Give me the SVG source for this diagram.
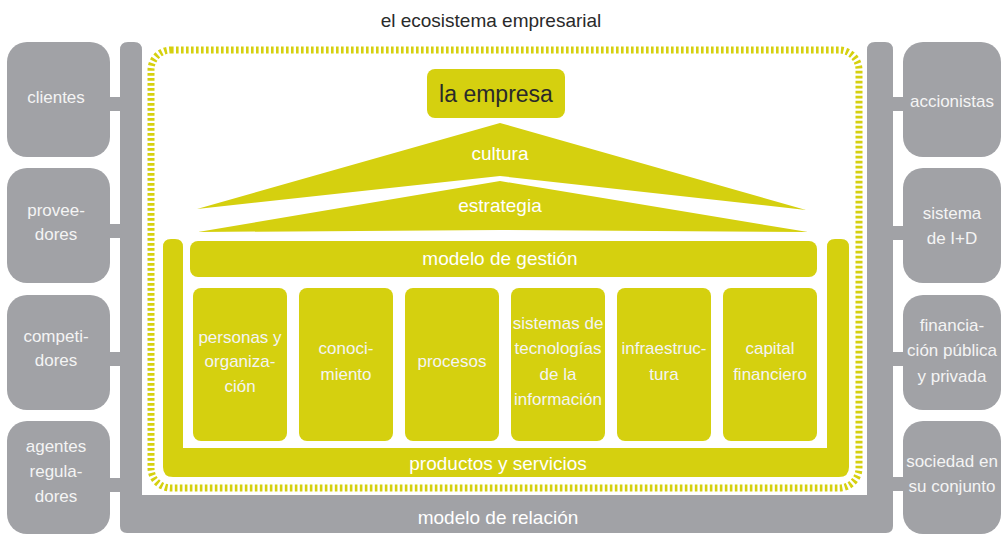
<svg xmlns="http://www.w3.org/2000/svg" width="1002" height="534" viewBox="0 0 1002 534">
<style>
.y{fill:#d5d00f}
.g{fill:#a1a2a6}
.t{font-family:"Liberation Sans Narrow","Liberation Sans",sans-serif;text-anchor:middle}
.w{fill:#ffffff;font-size:19px}
.wg{fill:#f4f4f4;font-size:17px}
.d{fill:#2a2a2a}
</style>
<rect width="1002" height="534" fill="#ffffff"/>
<text class="t d" x="491" y="27" font-size="19">el ecosistema empresarial</text>
<g id="frame">
<path class="g" d="M120,50 Q120,42 128,42 H134 Q142,42 142,50 V495 H867 V50 Q867,42 875,42 H885 Q893,42 893,50 V526 Q893,533 886,533 H127 Q120,533 120,526 Z"/>
<text class="t w" x="498" y="524" font-size="20">modelo de relación</text>
</g>
<g id="connectors" class="g">
<rect x="108" y="97" width="14" height="14"/>
<rect x="108" y="224" width="14" height="14"/>
<rect x="108" y="352" width="14" height="14"/>
<rect x="108" y="478" width="14" height="14"/>
<rect x="891" y="97" width="14" height="14"/>
<rect x="891" y="226" width="14" height="14"/>
<rect x="891" y="352" width="14" height="14"/>
<rect x="891" y="477" width="14" height="14"/>
</g>
<g id="clientes"><rect class="g" x="7" y="42" width="103" height="115" rx="20"/><text class="t wg" x="56" y="103">clientes</text></g>
<g id="proveedores"><rect class="g" x="7" y="168" width="103" height="115" rx="20"/><text class="t wg" x="56" y="216">provee-</text><text class="t wg" x="56" y="240">dores</text></g>
<g id="competidores"><rect class="g" x="7" y="295" width="103" height="115" rx="20"/><text class="t wg" x="56" y="342">competi-</text><text class="t wg" x="56" y="366">dores</text></g>
<g id="agentes"><rect class="g" x="7" y="421" width="103" height="113" rx="20"/><text class="t wg" x="56" y="452">agentes</text><text class="t wg" x="56" y="477">regula-</text><text class="t wg" x="56" y="502">dores</text></g>
<g id="accionistas"><rect class="g" x="903" y="42" width="98" height="115" rx="20"/><text class="t wg" x="952" y="107">accionistas</text></g>
<g id="sistema-id"><rect class="g" x="903" y="168" width="98" height="115" rx="20"/><text class="t wg" x="952" y="219">sistema</text><text class="t wg" x="952" y="244">de I+D</text></g>
<g id="financiacion"><rect class="g" x="903" y="295" width="98" height="115" rx="20"/><text class="t wg" x="952" y="331">financia-</text><text class="t wg" x="952" y="356">ción pública</text><text class="t wg" x="952" y="382">y privada</text></g>
<g id="sociedad"><rect class="g" x="903" y="421" width="98" height="113" rx="20"/><text class="t wg" x="952" y="467">sociedad en</text><text class="t wg" x="952" y="492">su conjunto</text></g>
<g id="empresa-border">
<rect x="151" y="50" width="708" height="438" rx="20" fill="none" stroke="#d5d00f" stroke-width="7" stroke-dasharray="2.6 2.4"/>
</g>
<g id="la-empresa"><rect class="y" x="427" y="69" width="138" height="49" rx="8"/><text class="t d" x="496" y="102" font-size="23">la empresa</text></g>
<g id="cultura"><polygon class="y" points="197,209 500,123 806,210 500,176"/><text class="t w" x="500" y="160" font-size="20">cultura</text></g>
<g id="estrategia"><polygon class="y" points="198,232 500,181 808,232 500,230"/><text class="t w" x="500" y="212" font-size="20">estrategia</text></g>
<g id="productos"><path class="y" d="M163,247 Q163,239 171,239 H175 Q183,239 183,247 V448 H827 V247 Q827,239 835,239 H841 Q849,239 849,247 V467 Q849,477 839,477 H173 Q163,477 163,467 Z"/><text class="t w" x="498" y="470" font-size="20">productos y servicios</text></g>
<g id="modelo-gestion"><rect class="y" x="190" y="241" width="627" height="36" rx="8"/><text class="t w" x="500" y="265" font-size="20">modelo de gestión</text></g>
<g id="personas"><rect class="y" x="193" y="288" width="94" height="153" rx="8"/><text class="t wg" x="240" y="343">personas y</text><text class="t wg" x="240" y="367">organiza-</text><text class="t wg" x="240" y="392">ción</text></g>
<g id="conocimiento"><rect class="y" x="299" y="288" width="94" height="153" rx="8"/><text class="t wg" x="346" y="354">conoci-</text><text class="t wg" x="346" y="380">miento</text></g>
<g id="procesos"><rect class="y" x="405" y="288" width="94" height="153" rx="8"/><text class="t wg" x="452" y="367">procesos</text></g>
<g id="sistemas-ti"><rect class="y" x="511" y="288" width="94" height="153" rx="8"/><text class="t wg" x="558" y="329">sistemas de</text><text class="t wg" x="558" y="354">tecnologías</text><text class="t wg" x="558" y="380">de la</text><text class="t wg" x="558" y="405">información</text></g>
<g id="infraestructura"><rect class="y" x="617" y="288" width="94" height="153" rx="8"/><text class="t wg" x="664" y="354">infraestruc-</text><text class="t wg" x="664" y="380">tura</text></g>
<g id="capital"><rect class="y" x="723" y="288" width="94" height="153" rx="8"/><text class="t wg" x="770" y="354">capital</text><text class="t wg" x="770" y="380">financiero</text></g>
</svg>
